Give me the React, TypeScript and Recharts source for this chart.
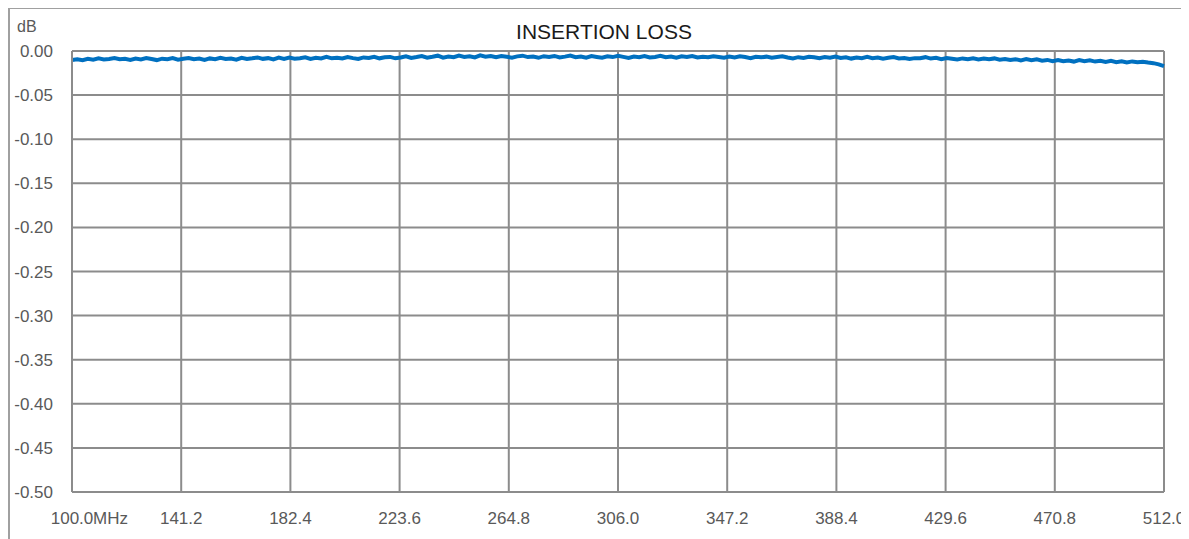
import React from 'react'
import { LineChart, Line, XAxis, YAxis, CartesianGrid } from 'recharts'

// frequency points, MHz
const freqs = [
  100, 102, 104, 106, 108, 110, 112, 114, 116, 118,
  120, 122, 124, 126, 128, 130, 132, 134, 136, 138,
  140, 142, 144, 146, 148, 150, 152, 154, 156, 158,
  160, 162, 164, 166, 168, 170, 172, 174, 176, 178,
  180, 182, 184, 186, 188, 190, 192, 194, 196, 198,
  200, 202, 204, 206, 208, 210, 212, 214, 216, 218,
  220, 222, 224, 226, 228, 230, 232, 234, 236, 238,
  240, 242, 244, 246, 248, 250, 252, 254, 256, 258,
  260, 262, 264, 266, 268, 270, 272, 274, 276, 278,
  280, 282, 284, 286, 288, 290, 292, 294, 296, 298,
  300, 302, 304, 306, 308, 310, 312, 314, 316, 318,
  320, 322, 324, 326, 328, 330, 332, 334, 336, 338,
  340, 342, 344, 346, 348, 350, 352, 354, 356, 358,
  360, 362, 364, 366, 368, 370, 372, 374, 376, 378,
  380, 382, 384, 386, 388, 390, 392, 394, 396, 398,
  400, 402, 404, 406, 408, 410, 412, 414, 416, 418,
  420, 422, 424, 426, 428, 430, 432, 434, 436, 438,
  440, 442, 444, 446, 448, 450, 452, 454, 456, 458,
  460, 462, 464, 466, 468, 470, 472, 474, 476, 478,
  480, 482, 484, 486, 488, 490, 492, 494, 496, 498,
  500, 502, 504, 506, 508, 510, 512,
]

// insertion loss, dB
const loss = [
  -0.0102, -0.0094, -0.0104, -0.0088, -0.0098, -0.0084, -0.0096, -0.0090, -0.0080, -0.0094,
  -0.0089, -0.0101, -0.0085, -0.0095, -0.0079, -0.0091, -0.0103, -0.0087, -0.0093, -0.0081,
  -0.0098, -0.0088, -0.0080, -0.0094, -0.0086, -0.0102, -0.0084, -0.0092, -0.0078, -0.0090,
  -0.0085, -0.0099, -0.0077, -0.0091, -0.0083, -0.0073, -0.0089, -0.0081, -0.0095, -0.0075,
  -0.0091, -0.0075, -0.0087, -0.0081, -0.0071, -0.0089, -0.0077, -0.0085, -0.0067, -0.0083,
  -0.0077, -0.0085, -0.0069, -0.0081, -0.0091, -0.0073, -0.0079, -0.0065, -0.0083, -0.0071,
  -0.0067, -0.0083, -0.0073, -0.0061, -0.0079, -0.0069, -0.0057, -0.0075, -0.0065, -0.0053,
  -0.0075, -0.0063, -0.0071, -0.0053, -0.0067, -0.0059, -0.0073, -0.0049, -0.0065, -0.0057,
  -0.0071, -0.0057, -0.0065, -0.0075, -0.0061, -0.0053, -0.0069, -0.0063, -0.0077, -0.0059,
  -0.0068, -0.0056, -0.0074, -0.0064, -0.0052, -0.0070, -0.0062, -0.0076, -0.0058, -0.0068,
  -0.0077, -0.0061, -0.0069, -0.0055, -0.0067, -0.0079, -0.0063, -0.0071, -0.0057, -0.0073,
  -0.0067, -0.0055, -0.0071, -0.0063, -0.0077, -0.0061, -0.0069, -0.0057, -0.0073, -0.0065,
  -0.0071, -0.0059, -0.0067, -0.0077, -0.0063, -0.0073, -0.0061, -0.0069, -0.0081, -0.0065,
  -0.0072, -0.0064, -0.0076, -0.0068, -0.0060, -0.0074, -0.0084, -0.0070, -0.0078, -0.0066,
  -0.0072, -0.0082, -0.0068, -0.0076, -0.0064, -0.0080, -0.0072, -0.0086, -0.0074, -0.0082,
  -0.0067, -0.0081, -0.0073, -0.0087, -0.0077, -0.0069, -0.0085, -0.0079, -0.0091, -0.0081,
  -0.0082, -0.0070, -0.0086, -0.0078, -0.0092, -0.0080, -0.0088, -0.0096, -0.0084, -0.0094,
  -0.0083, -0.0096, -0.0086, -0.0094, -0.0084, -0.0099, -0.0091, -0.0103, -0.0093, -0.0106,
  -0.0091, -0.0105, -0.0095, -0.0109, -0.0101, -0.0115, -0.0103, -0.0117, -0.0108, -0.0120,
  -0.0102, -0.0116, -0.0106, -0.0120, -0.0110, -0.0124, -0.0112, -0.0126, -0.0116, -0.0130,
  -0.0118, -0.0128, -0.0122, -0.0131, -0.0138, -0.0152, -0.0172,
]

const xTicks = [100, 141.2, 182.4, 223.6, 264.8, 306, 347.2, 388.4, 429.6, 470.8, 512]
const yTicks = [0, -0.05, -0.1, -0.15, -0.2, -0.25, -0.3, -0.35, -0.4, -0.45, -0.5]

const data = freqs.map((f, i) => ({ f, loss: loss[i] }))

const FONT = '"Liberation Sans", Arial, sans-serif'
const GREY = '#595959'
const GRID = '#8c8c8c'

function FreqTick({ x, y, payload }: any) {
  const first = payload.value === xTicks[0]
  return (
    <g>
      <text x={x} y={y} dy="0.71em" textAnchor="middle" fill={GREY} fontSize={17} fontFamily={FONT}>
        {payload.value.toFixed(1)}
      </text>
      {first && (
        <text x={x + 21} y={y} dy="0.71em" textAnchor="start" fill={GREY} fontSize={17} fontFamily={FONT}>
          MHz
        </text>
      )}
    </g>
  )
}

export default function App() {
  return (
    <div style={{ position: 'relative', width: 1181, height: 532, marginTop: -1, borderLeft: '2px solid #a0a0a0', borderTop: '2px solid #a0a0a0', boxSizing: 'border-box' }}>
      <div style={{ position: 'absolute', left: -2, top: -2 }}>
        <LineChart width={1181} height={532} data={data} margin={{ top: 44, right: 25, left: 0, bottom: 0 }}>
          <CartesianGrid stroke={GRID} strokeWidth={2} />
          <XAxis
            dataKey="f"
            type="number"
            domain={[100, 512]}
            ticks={xTicks}
            height={47}
            tick={<FreqTick />}
            tickLine={false}
            tickSize={0}
            tickMargin={20}
            axisLine={{ stroke: GRID, strokeWidth: 2 }}
            interval={0}
          />
          <YAxis
            type="number"
            domain={[-0.5, 0]}
            ticks={yTicks}
            width={64}
            tickFormatter={(v: number) => v.toFixed(2)}
            tick={{ fill: GREY, fontSize: 17, fontFamily: FONT }}
            tickLine={false}
            tickSize={0}
            tickMargin={19}
            axisLine={{ stroke: GRID, strokeWidth: 2 }}
            interval={0}
          />
          <Line
            dataKey="loss"
            type="linear"
            stroke="#0070C0"
            strokeWidth={4}
            dot={false}
            isAnimationActive={false}
          />
        </LineChart>
      </div>
      <svg width={1181} height={532} style={{ position: 'absolute', left: -2, top: -2, pointerEvents: 'none' }}>
        <text x={596} y={32} textAnchor="middle" fill="#1a1a1a" fontSize={21} fontFamily={FONT}>
          INSERTION LOSS
        </text>
        <text x={9} y={25} fill={GREY} fontSize={16} fontFamily={FONT}>
          dB
        </text>
      </svg>
    </div>
  )
}
